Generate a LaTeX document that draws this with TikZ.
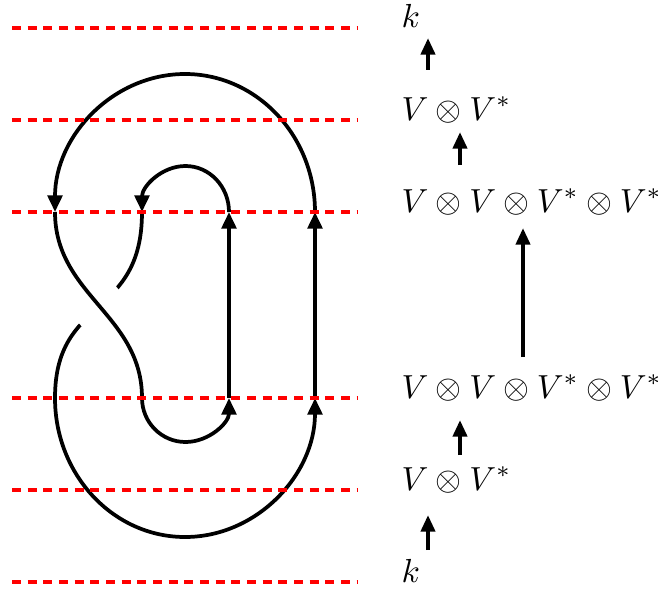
\documentclass[tikz,border=0pt]{standalone}
\usetikzlibrary{arrows.meta}
\begin{document}
\begin{tikzpicture}[x=0.75pt,y=-0.75pt,
  knot/.style={line width=2.8pt},
  kar/.style={knot,-{Triangle[length=12.5pt,width=11pt]}},
  cut/.style={red, line width=3pt, dash pattern=on 6.75pt off 5pt},
  lbl/.style={anchor=base west, inner sep=0pt, scale=2.5},
  maparrow/.style={line width=3pt,-{Triangle[length=12.5pt,width=10.5pt]}}]
\useasboundingbox (0,0) rectangle (663,592);

% knot diagram
\draw[kar] (142,398) arc[start angle=180,end angle=0,x radius=43.5,y radius=44];
\draw[kar] (229,398) -- (229,212);
\draw[kar] (229,212) arc[start angle=0,end angle=-180,x radius=43.5,y radius=46];
\draw[knot] (142,212) .. controls (142,320) and (55,295) .. (55,398);
\draw[kar] (55,398) arc[start angle=180,end angle=0,x radius=130,y radius=139];
\draw[kar] (315,398) -- (315,212);
\draw[kar] (315,212) arc[start angle=0,end angle=-180,x radius=130,y radius=138];
\draw[white,line width=39pt] (94.6,301.4) -- (102.4,310.6);
\draw[knot] (55,212) .. controls (55,295) and (142,315) .. (142,398);

% cut lines
\foreach \yy in {28,120,212,398,490,582}
  \draw[cut] (12,\yy) -- (357,\yy);

% labels
\node[lbl] (kt)  at (401,28)  {$k$};
\node[lbl] (vv1) at (401,120) {$V\otimes V^*$};
\node[lbl] (v4a) at (401,212) {$V\otimes V\otimes V^*\otimes V^*$};
\node[lbl] (v4b) at (401,398) {$V\otimes V\otimes V^*\otimes V^*$};
\node[lbl] (vv2) at (401,490) {$V\otimes V^*$};
\node[lbl] (kb)  at (401,582) {$k$};

\coordinate (a1s) at (428,70);  \coordinate (a1e) at (428,38);
\coordinate (a2s) at (460,165); \coordinate (a2e) at (460,132);
\coordinate (a3s) at (523,357); \coordinate (a3e) at (523,228);
\coordinate (a4s) at (460,455); \coordinate (a4e) at (460,420);
\coordinate (a5s) at (428,550); \coordinate (a5e) at (428,515);
\draw[maparrow] (a1s) -- (a1e);
\draw[maparrow] (a2s) -- (a2e);
\draw[maparrow] (a3s) -- (a3e);
\draw[maparrow] (a4s) -- (a4e);
\draw[maparrow] (a5s) -- (a5e);
\end{tikzpicture}
\end{document}
